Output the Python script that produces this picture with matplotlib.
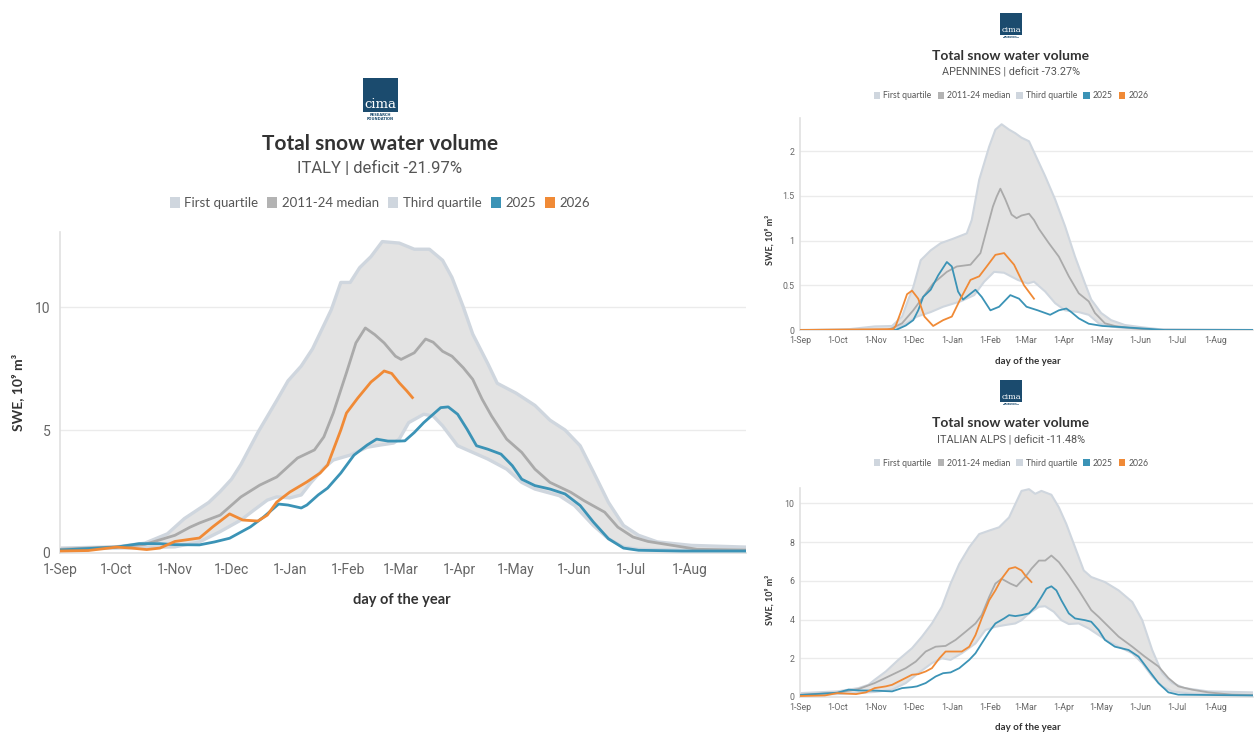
import numpy as np
import matplotlib
matplotlib.use("Agg")
import matplotlib.pyplot as plt
from matplotlib.patches import Rectangle, Patch

W, H = 1256, 735

month_days = [0, 30, 61, 91, 122, 153, 181, 212, 242, 273, 303, 334]
month_labels = ['1-Sep', '1-Oct', '1-Nov', '1-Dec', '1-Jan', '1-Feb',
                '1-Mar', '1-Apr', '1-May', '1-Jun', '1-Jul', '1-Aug']

# ---- ITALY (days from 1-Sep, SWE in 10^9 m3)
italy_q3_day = [0, 30, 45, 57, 66, 79, 85, 91, 96, 105, 115, 121, 128, 134, 144, 149, 154, 159, 165,
                171, 180, 188, 196, 203, 208, 214, 219, 227, 232, 242, 252, 260, 268, 276, 283, 291,
                299, 307, 317, 335, 364]
italy_q3 = [0.2, 0.25, 0.4, 0.78, 1.4, 2.06, 2.5, 3.0, 3.6, 4.9, 6.2, 7.0, 7.6, 8.3, 9.9, 11.0, 11.0,
            11.6, 12.05, 12.66, 12.6, 12.35, 12.35, 11.9, 11.2, 10.0, 8.9, 7.7, 6.9, 6.5, 6.0, 5.4,
            5.0, 4.36, 3.3, 2.06, 1.12, 0.72, 0.45, 0.31, 0.24]
italy_q1_day = [0, 30, 61, 74, 85, 96, 103, 110, 115, 122, 128, 133, 140, 145, 154, 163, 170, 177,
                180, 185, 193, 198, 203, 211, 219, 227, 237, 245, 252, 265, 273, 283, 291, 299, 307,
                330, 364]
italy_q1 = [0.15, 0.2, 0.25, 0.45, 0.87, 1.34, 1.75, 2.15, 2.28, 2.24, 2.36, 2.85, 3.45, 3.78, 3.98,
            4.3, 4.39, 4.47, 4.63, 5.3, 5.64, 5.57, 5.17, 4.36, 4.09, 3.82, 3.41, 2.87, 2.6, 2.33,
            1.93, 1.12, 0.58, 0.24, 0.15, 0.12, 0.1]
italy_med_day = [0, 30, 45, 61, 69, 74, 85, 96, 106, 115, 126, 135, 140, 145, 149, 152, 157, 162, 167,
                 172, 178, 181, 188, 194, 198, 203, 208, 214, 219, 224, 229, 237, 245, 252, 260, 271,
                 278, 289, 296, 304, 312, 325, 338, 364]
italy_med = [0.15, 0.25, 0.35, 0.72, 1.05, 1.22, 1.54, 2.28, 2.76, 3.09, 3.86, 4.19, 4.72, 5.69, 6.63,
             7.33, 8.54, 9.15, 8.88, 8.54, 8.0, 7.87, 8.14, 8.7, 8.57, 8.2, 8.0, 7.53, 7.06, 6.25,
             5.57, 4.63, 4.09, 3.41, 2.87, 2.47, 2.13, 1.66, 1.05, 0.65, 0.47, 0.31, 0.15, 0.12]
italy_2025_day = [0, 30, 42, 53, 61, 74, 82, 90, 101, 108, 116, 121, 128, 131, 137, 142, 149, 156, 163,
                  168, 174, 180, 183, 188, 193, 198, 202, 206, 211, 216, 221, 227, 234, 240, 245, 252,
                  260, 268, 276, 283, 291, 299, 307, 330, 364]
italy_2025 = [0.12, 0.24, 0.38, 0.38, 0.34, 0.33, 0.45, 0.6, 1.06, 1.46, 1.99, 1.95, 1.83, 1.95, 2.36,
              2.64, 3.25, 3.98, 4.39, 4.63, 4.55, 4.55, 4.56, 4.9, 5.3, 5.64, 5.91, 5.94, 5.64, 5.03,
              4.36, 4.22, 4.02, 3.55, 3.0, 2.74, 2.6, 2.4, 1.93, 1.26, 0.58, 0.2, 0.11, 0.08, 0.08]
italy_2026_day = [0, 15, 30, 38, 46, 53, 61, 74, 81, 90, 97, 105, 110, 115, 122, 131, 138, 142, 145,
                  149, 152, 158, 165, 169, 172, 176, 180, 184, 187]
italy_2026 = [0.08, 0.1, 0.24, 0.2, 0.14, 0.2, 0.47, 0.61, 1.06, 1.59, 1.34, 1.3, 1.54, 2.07, 2.48,
              2.89, 3.25, 3.58, 4.19, 5.0, 5.69, 6.3, 6.95, 7.2, 7.4, 7.3, 6.92, 6.59, 6.32]

# ---- APENNINES
apen_q3_day = [0, 40, 60, 74, 82, 87, 91, 97, 105, 113, 123, 134, 138, 144, 152, 157, 162, 168, 173,
               178, 184, 189, 197, 205, 213, 221, 229, 234, 242, 250, 261, 275, 288, 364]
apen_q3 = [0.0, 0.01, 0.04, 0.045, 0.15, 0.34, 0.48, 0.78, 0.89, 0.97, 1.02, 1.08, 1.23, 1.68, 2.05,
           2.24, 2.3, 2.24, 2.2, 2.15, 2.11, 1.96, 1.72, 1.46, 1.16, 0.82, 0.52, 0.34, 0.19, 0.11,
           0.056, 0.03, 0.01, 0.0]
apen_q1_day = [0, 75, 85, 94, 105, 115, 129, 140, 148, 156, 164, 175, 183, 188, 197, 205, 213, 224,
               232, 240, 250, 261, 275, 364]
apen_q1 = [0.0, 0.0, 0.07, 0.15, 0.2, 0.26, 0.32, 0.39, 0.54, 0.65, 0.64, 0.56, 0.52, 0.54, 0.43,
           0.3, 0.22, 0.2, 0.17, 0.075, 0.04, 0.02, 0.0, 0.0]
apen_med_day = [0, 70, 74, 82, 91, 99, 107, 118, 126, 137, 145, 150, 155, 158, 161, 165, 170, 174,
                178, 184, 188, 192, 200, 208, 216, 224, 232, 237, 245, 253, 267, 283, 364]
apen_med = [0.0, 0.0, 0.02, 0.075, 0.22, 0.37, 0.52, 0.65, 0.71, 0.73, 0.86, 1.12, 1.38, 1.49, 1.58,
            1.46, 1.29, 1.25, 1.28, 1.3, 1.23, 1.13, 0.97, 0.82, 0.6, 0.41, 0.32, 0.19, 0.075, 0.045,
            0.02, 0.0, 0.0]
apen_2025_day = [0, 77, 85, 91, 95, 99, 105, 111, 118, 122, 127, 131, 141, 146, 153, 160, 169, 176,
                 182, 191, 201, 208, 214, 218, 224, 232, 243, 261, 283, 293, 364]
apen_2025 = [0.0, 0.0, 0.05, 0.11, 0.22, 0.37, 0.45, 0.61, 0.76, 0.71, 0.43, 0.34, 0.45, 0.37, 0.22,
             0.26, 0.39, 0.35, 0.26, 0.22, 0.17, 0.22, 0.24, 0.2, 0.13, 0.07, 0.045, 0.03, 0.01, 0.0,
             0.0]
apen_2026_day = [0, 75, 77, 81, 86, 90, 95, 100, 107, 115, 122, 129, 137, 144, 150, 157, 164, 172,
                 180, 188]
apen_2026 = [0.0, 0.01, 0.05, 0.2, 0.4, 0.44, 0.35, 0.15, 0.045, 0.11, 0.15, 0.35, 0.56, 0.6, 0.71,
             0.84, 0.86, 0.73, 0.5, 0.35]

# ---- ITALIAN ALPS
alps_q3_day = [0, 30, 47, 55, 60, 69, 79, 90, 98, 106, 114, 121, 128, 136, 144, 152, 160, 168, 173,
               178, 184, 189, 194, 202, 208, 214, 221, 228, 234, 245, 256, 267, 275, 283, 291, 299,
               309, 328, 364]
alps_q3 = [0.2, 0.29, 0.46, 0.63, 0.89, 1.32, 1.92, 2.52, 3.12, 3.8, 4.66, 5.86, 6.88, 7.74, 8.42,
           8.6, 8.77, 9.28, 9.97, 10.65, 10.74, 10.5, 10.65, 10.45, 9.8, 8.94, 7.74, 6.54, 6.2, 5.94,
           5.51, 4.91, 3.97, 2.43, 1.23, 0.72, 0.46, 0.29, 0.24]
alps_q1_day = [0, 30, 60, 74, 85, 95, 106, 114, 121, 130, 141, 149, 157, 165, 173, 178, 184, 192,
               197, 204, 210, 216, 224, 232, 240, 248, 256, 267, 275, 283, 291, 299, 315, 364]
alps_q1 = [0.1, 0.15, 0.26, 0.38, 0.72, 1.23, 1.75, 2.0, 1.92, 2.26, 2.77, 3.46, 3.63, 3.72, 3.8,
           3.97, 4.32, 4.66, 4.69, 4.4, 3.97, 3.77, 3.8, 3.54, 3.2, 2.86, 2.6, 2.26, 1.75, 1.06,
           0.55, 0.29, 0.17, 0.12]
alps_med_day = [0, 30, 47, 60, 74, 85, 93, 101, 109, 117, 125, 133, 141, 146, 152, 157, 162, 169,
                174, 181, 186, 192, 197, 202, 208, 216, 224, 234, 240, 248, 256, 267, 277, 288, 296,
                304, 315, 328, 347, 364]
alps_med = [0.12, 0.22, 0.41, 0.72, 1.15, 1.49, 1.83, 2.35, 2.6, 2.64, 2.95, 3.37, 3.8, 4.23, 5.17,
            5.86, 6.11, 5.86, 5.72, 6.2, 6.63, 7.05, 7.05, 7.31, 6.97, 6.28, 5.51, 4.49, 4.14, 3.63,
            3.12, 2.6, 2.09, 1.58, 0.98, 0.55, 0.38, 0.24, 0.12, 0.1]
alps_2025_day = [0, 30, 39, 47, 60, 74, 82, 90, 94, 101, 109, 115, 121, 128, 136, 141, 146, 152, 157,
                 164, 168, 173, 178, 184, 189, 194, 198, 202, 206, 210, 216, 221, 229, 234, 240, 245,
                 253, 264, 272, 280, 288, 296, 304, 364]
alps_2025 = [0.1, 0.22, 0.38, 0.34, 0.33, 0.29, 0.46, 0.51, 0.55, 0.72, 1.06, 1.23, 1.27, 1.49, 1.92,
             2.26, 2.77, 3.37, 3.8, 4.06, 4.23, 4.18, 4.23, 4.32, 4.66, 5.17, 5.6, 5.72, 5.51, 5.0,
             4.32, 4.06, 3.97, 3.89, 3.46, 2.95, 2.6, 2.43, 2.09, 1.4, 0.72, 0.24, 0.12, 0.08]
alps_2026_day = [0, 20, 30, 45, 53, 60, 69, 74, 82, 90, 95, 101, 106, 112, 117, 125, 130, 136, 141,
                 146, 152, 157, 162, 168, 173, 178, 181, 186]
alps_2026 = [0.05, 0.08, 0.2, 0.15, 0.24, 0.46, 0.55, 0.63, 0.89, 1.15, 1.18, 1.32, 1.49, 2.0, 2.35,
             2.35, 2.35, 2.6, 3.2, 4.06, 5.0, 5.51, 6.11, 6.63, 6.71, 6.54, 6.28, 5.94]

C_BAND = '#e3e3e3'
C_EDGE = '#cfd6de'
C_MED = '#aaaaaa'
C_2025 = '#3b93b6'
C_2026 = '#f08a36'
TXT = '#666666'
DARK = '#333333'

fig = plt.figure(figsize=(W / 100, H / 100), dpi=100)
fig.patch.set_facecolor('white')


def fx(x):
    return x / W


def fy(y):
    return 1 - y / H


def panel(rect, q1d, q1, q3d, q3, medd, med, d25, v25, d26, v26, ymax, yticks, ytl, big):
    x0, ytop, x1, ybot = rect
    ax = fig.add_axes([fx(x0), fy(ybot), fx(x1) - fx(x0), fy(ytop) - fy(ybot)])
    lw_edge = 2.4 if big else 1.5
    lw = 2.0 if big else 1.3
    px = np.concatenate([q3d, q1d[::-1]])
    py = np.concatenate([q3, q1[::-1]])
    ax.fill(px, py, color=C_BAND, lw=0, zorder=1)
    ax.plot(q3d, q3, color=C_EDGE, lw=lw_edge, zorder=2)
    ax.plot(q1d, q1, color=C_EDGE, lw=lw_edge, zorder=2)
    ax.plot(medd, med, color=C_MED, lw=lw, zorder=3)
    ax.plot(d25, v25, color=C_2025, lw=lw, zorder=4)
    ax.plot(d26, v26, color=C_2026, lw=lw, zorder=5)
    ax.set_xlim(0, 364)
    ax.set_ylim(0, ymax)
    ax.set_xticks(month_days)
    ax.set_xticklabels(month_labels, family='Roboto', fontsize=10 if big else 6.3, color=TXT)
    ax.set_yticks(yticks)
    ax.set_yticklabels(ytl, family='Roboto', fontsize=10 if big else 6.3, color=TXT)
    ax.tick_params(length=0, pad=7 if big else 4)
    ax.grid(axis='y', color='#ebebeb', lw=1)
    ax.set_axisbelow(True)
    for s in ['top', 'right']:
        ax.spines[s].set_visible(False)
    for s in ['left', 'bottom']:
        ax.spines[s].set_color('#e0e0e0')
        ax.spines[s].set_linewidth(1.2)
    return ax


def header(cx, ylogo, ytitle, ysub, yleg, subtitle, big):
    s = 1.0 if big else 0.62
    lw_px, lh_px = 35 * s, 34 * s
    fig.add_artist(Rectangle((fx(cx - lw_px / 2), fy(ylogo + lh_px / 2)), lw_px / W, lh_px / H,
                             transform=fig.transFigure, color='#1b4b6e', lw=0))
    fig.text(fx(cx), fy(ylogo + lh_px / 2 - 1), 'cima', family='DejaVu Serif', color='white',
             fontsize=9.5 * s, ha='center', va='bottom')
    fig.text(fx(cx), fy(ylogo + lh_px / 2 + 1), 'RESEARCH\nFOUNDATION', color='#1b4b6e',
             fontsize=2.6 * s, ha='center', va='top', weight='bold', linespacing=1.0)
    fig.text(fx(cx), fy(ytitle), 'Total snow water volume', family='Lato', weight='bold',
             fontsize=15 if big else 10, color=DARK, ha='center', va='center')
    fig.text(fx(cx), fy(ysub), subtitle, family='Roboto', fontsize=12 if big else 7.8,
             color='#555555', ha='center', va='center')
    handles = [Patch(facecolor=C_EDGE, edgecolor='none'), Patch(facecolor='#b3b3b3', edgecolor='none'),
               Patch(facecolor=C_EDGE, edgecolor='none'), Patch(facecolor=C_2025, edgecolor='none'),
               Patch(facecolor=C_2026, edgecolor='none')]
    labels = ['First quartile', '2011-24 median', 'Third quartile', '2025', '2026']
    fig.legend(handles, labels, ncol=5, frameon=False, loc='center',
               bbox_to_anchor=(fx(cx), fy(yleg)),
               prop={'family': 'Lato', 'size': 9.5 if big else 6.2},
               labelcolor='#555555', handlelength=0.75, handleheight=0.95,
               handletextpad=0.35, columnspacing=0.7)


# main ITALY
ax1 = panel((60, 232, 746, 553), italy_q1_day, italy_q1, italy_q3_day, italy_q3,
            italy_med_day, italy_med, italy_2025_day, italy_2025, italy_2026_day, italy_2026,
            13.05, [0, 5, 10], ['0', '5', '10'], True)
fig.text(fx(18), fy(392), 'SWE, 10⁹ m³', family=['Lato', 'DejaVu Sans'], weight='bold',
         fontsize=10, color=DARK, rotation=90, ha='center', va='center')
fig.text(fx(402), fy(600), 'day of the year', family='Lato', weight='bold', fontsize=10.5,
         color=DARK, ha='center', va='center')
header(380, 95, 144, 168, 203, 'ITALY | deficit -21.97%', True)

# APENNINES
ax2 = panel((800, 118, 1253, 330), apen_q1_day, apen_q1, apen_q3_day, apen_q3,
            apen_med_day, apen_med, apen_2025_day, apen_2025, apen_2026_day, apen_2026,
            2.37, [0, 0.5, 1, 1.5, 2], ['0', '0.5', '1', '1.5', '2'], False)
fig.text(fx(770), fy(240), 'SWE, 10⁹ m³', family=['Lato', 'DejaVu Sans'], weight='bold',
         fontsize=6.5, color=DARK, rotation=90, ha='center', va='center')
fig.text(fx(1028), fy(361), 'day of the year', family='Lato', weight='bold', fontsize=7,
         color=DARK, ha='center', va='center')
header(1011, 24, 56, 72, 96, 'APENNINES | deficit -73.27%', False)

# ITALIAN ALPS
ax3 = panel((800, 488, 1253, 697), alps_q1_day, alps_q1, alps_q3_day, alps_q3,
            alps_med_day, alps_med, alps_2025_day, alps_2025, alps_2026_day, alps_2026,
            10.8, [0, 2, 4, 6, 8, 10], ['0', '2', '4', '6', '8', '10'], False)
fig.text(fx(770), fy(600), 'SWE, 10⁹ m³', family=['Lato', 'DejaVu Sans'], weight='bold',
         fontsize=6.5, color=DARK, rotation=90, ha='center', va='center')
fig.text(fx(1028), fy(728), 'day of the year', family='Lato', weight='bold', fontsize=7,
         color=DARK, ha='center', va='center')
header(1011, 391, 423, 440, 463, 'ITALIAN ALPS | deficit -11.48%', False)

fig.savefig('out.png', dpi=100)
